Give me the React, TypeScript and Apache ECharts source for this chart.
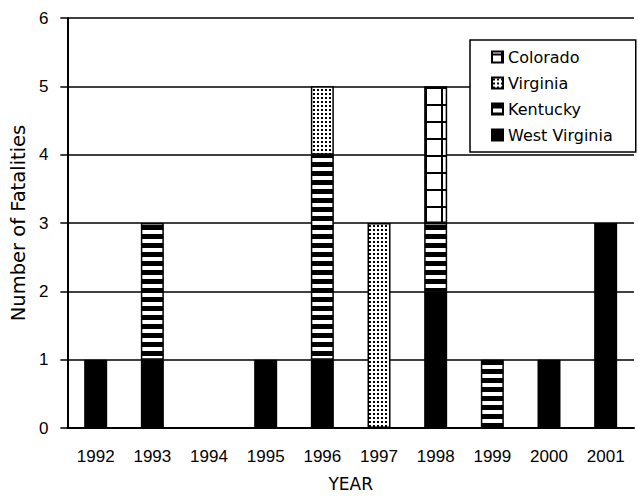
import React, { useEffect, useRef } from "react";
import * as echarts from "echarts";

const years = ["1992", "1993", "1994", "1995", "1996", "1997", "1998", "1999", "2000", "2001"];
const westVirginia = [1, 1, 0, 1, 1, 0, 2, 0, 1, 3];
const kentucky = [0, 2, 0, 0, 3, 0, 1, 1, 0, 0];
const virginia = [0, 0, 0, 0, 1, 3, 0, 0, 0, 0];
const colorado = [0, 0, 0, 0, 0, 0, 2, 0, 0, 0];
const legendOrder = ["Colorado", "Virginia", "Kentucky", "West Virginia"];

function makeTile(w: number, h: number, draw: (ctx: CanvasRenderingContext2D) => void) {
  const c = document.createElement("canvas");
  c.width = w;
  c.height = h;
  const ctx = c.getContext("2d")!;
  ctx.fillStyle = "#ffffff";
  ctx.fillRect(0, 0, w, h);
  ctx.fillStyle = "#000000";
  draw(ctx);
  return { type: "pattern", image: c.toDataURL(), imageWidth: w, imageHeight: h, repeat: "repeat" } as any;
}

const nz = (arr: number[]) => arr.map((v) => (v === 0 ? null : v));

export default function App() {
  const ref = useRef<HTMLDivElement>(null);
  useEffect(() => {
    if (!ref.current) return;
    const chart = echarts.init(ref.current, null, { renderer: "svg" });
    const stripes = makeTile(9, 9, (ctx) => ctx.fillRect(0, 0, 9, 5));
    const dots = makeTile(4, 4, (ctx) => ctx.fillRect(1, 1, 2, 2));
    const grid = makeTile(16, 17, (ctx) => {
      ctx.fillRect(9, 0, 2, 17);
      ctx.fillRect(0, 2, 16, 2);
    });
    const font = "DejaVu Sans";
    const tickFont = "Liberation Sans";
    const border = { borderColor: "#000", borderWidth: 1.5 };
    chart.setOption({
      animation: false,
      backgroundColor: "#fff",
      textStyle: { fontFamily: font, color: "#000" },
      grid: { left: 65, right: 4, top: 18, bottom: 65 },
      legend: {
        data: legendOrder,
        orient: "vertical",
        left: 470,
        top: 40,
        padding: [9, 23, 9, 21],
        itemWidth: 11,
        itemHeight: 11,
        itemGap: 10,
        icon: "rect",
        borderColor: "#000",
        borderWidth: 1.5,
        backgroundColor: "#fff",
        textStyle: { fontFamily: font, fontSize: 16, color: "#000" },
      },
      xAxis: {
        type: "category",
        data: years,
        name: "YEAR",
        nameLocation: "middle",
        nameGap: 47,
        nameTextStyle: { fontFamily: font, fontSize: 17, color: "#000" },
        axisLine: { lineStyle: { color: "#000", width: 2 } },
        axisTick: { length: 6, lineStyle: { color: "#000", width: 1.5 } },
        axisLabel: { fontFamily: tickFont, fontSize: 17, color: "#000", margin: 20 },
      },
      yAxis: {
        type: "value",
        min: 0,
        max: 6,
        interval: 1,
        name: "Number of Fatalities",
        nameLocation: "middle",
        nameGap: 35,
        nameTextStyle: { fontFamily: font, fontSize: 19.5, color: "#000" },
        axisLine: { show: true, lineStyle: { color: "#000", width: 2 } },
        axisTick: { show: true, length: 7, lineStyle: { color: "#000", width: 1.5 } },
        axisLabel: { fontFamily: tickFont, fontSize: 17, color: "#000", margin: 19 },
        splitLine: { lineStyle: { color: "#000", width: 1.5 } },
      },
      series: [
        { name: "West Virginia", type: "bar", stack: "s", barWidth: 23, data: nz(westVirginia), itemStyle: { color: "#000", ...border } },
        { name: "Kentucky", type: "bar", stack: "s", barWidth: 23, data: nz(kentucky), itemStyle: { color: stripes, ...border } },
        { name: "Virginia", type: "bar", stack: "s", barWidth: 23, data: nz(virginia), itemStyle: { color: dots, ...border } },
        { name: "Colorado", type: "bar", stack: "s", barWidth: 23, data: nz(colorado), itemStyle: { color: grid, ...border } },
      ],
    });
    return () => chart.dispose();
  }, []);
  return <div ref={ref} style={{ position: "fixed", left: 0, top: 0, width: 638, height: 497 }} />;
}
